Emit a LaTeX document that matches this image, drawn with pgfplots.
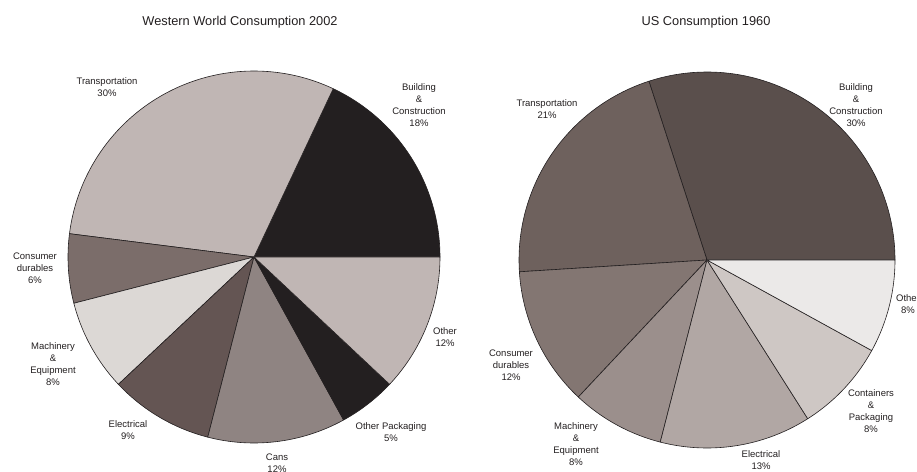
\documentclass[border=0pt]{standalone}
\usepackage{fontspec}
\setmainfont{Liberation Sans}
\usepackage{pgfplots}
\pgfplotsset{compat=1.18}
\definecolor{wBuild}{HTML}{231F20}
\definecolor{wTrans}{HTML}{C0B6B4}
\definecolor{wCons}{HTML}{7B6D6A}
\definecolor{wMach}{HTML}{DCD8D5}
\definecolor{wElec}{HTML}{645553}
\definecolor{wCans}{HTML}{8F8482}
\definecolor{wOPack}{HTML}{231F20}
\definecolor{wOther}{HTML}{C0B6B4}
\definecolor{uBuild}{HTML}{5A4F4C}
\definecolor{uTrans}{HTML}{6E615D}
\definecolor{uCons}{HTML}{837672}
\definecolor{uMach}{HTML}{9B8F8C}
\definecolor{uElec}{HTML}{B1A7A4}
\definecolor{uCont}{HTML}{CEC7C4}
\definecolor{uOther}{HTML}{EBE9E8}
\definecolor{txt}{HTML}{231F20}
% slice: start percent, end percent, colour
\newcommand{\slice}[3]{\addplot[fill=#3, draw=txt, line width=0.6pt, domain={#1*3.6}:{#2*3.6}, samples=80, variable=\t, line join=round] ({cos(\t)},{sin(\t)}) -- (axis cs:0,0) -- cycle;}
\newcommand{\lab}[3]{\node[align=center, text=txt, font=\fontsize{9.5}{12}\selectfont, inner sep=0pt] at (#1pt,{(471-#2)*1pt}) {#3};}
\begin{document}
\begin{tikzpicture}
\path[use as bounding box] (0,0) rectangle (917pt,471pt);
\pgfplotsset{pie/.style={hide axis, scale only axis, clip=false, xmin=-1, xmax=1, ymin=-1, ymax=1, anchor=center}}
% Western World 2002: 18,30,6,8,9,12,5,12
\begin{axis}[pie, width=372pt, height=372pt, at={(254pt,214pt)}]
\slice{0}{18}{wBuild}
\slice{18}{48}{wTrans}
\slice{48}{54}{wCons}
\slice{54}{62}{wMach}
\slice{62}{71}{wElec}
\slice{71}{83}{wCans}
\slice{83}{88}{wOPack}
\slice{88}{100}{wOther}
\end{axis}
% US 1960: 30,21,12,8,13,8,8
\begin{axis}[pie, width=376pt, height=376pt, at={(707pt,211pt)}]
\slice{0}{30}{uBuild}
\slice{30}{51}{uTrans}
\slice{51}{63}{uCons}
\slice{63}{71}{uMach}
\slice{71}{84}{uElec}
\slice{84}{92}{uCont}
\slice{92}{100}{uOther}
\end{axis}
\node[text=txt, font=\fontsize{12.8}{15}\selectfont, inner sep=0pt] at (240pt,449pt) {Western World Consumption 2002};
\node[text=txt, font=\fontsize{12.8}{15}\selectfont, inner sep=0pt] at (706pt,449pt) {US Consumption 1960};
\lab{107}{87.5}{Transportation\\30\%}
\lab{419}{105}{Building\\\&\\Construction\\18\%}
\lab{35}{268}{Consumer\\durables\\6\%}
\lab{53}{364}{Machinery\\\&\\Equipment\\8\%}
\lab{128}{430}{Electrical\\9\%}
\lab{277}{463}{Cans\\12\%}
\lab{391}{432}{Other Packaging\\5\%}
\lab{445}{337}{Other\\12\%}
\lab{547}{109}{Transportation\\21\%}
\lab{856}{105.5}{Building\\\&\\Construction\\30\%}
\lab{511}{365}{Consumer\\durables\\12\%}
\lab{576}{444}{Machinery\\\&\\Equipment\\8\%}
\lab{761}{460}{Electrical\\13\%}
\lab{871}{411.5}{Containers\\\&\\Packaging\\8\%}
\lab{908}{304}{Other\\8\%}
\end{tikzpicture}
\end{document}
